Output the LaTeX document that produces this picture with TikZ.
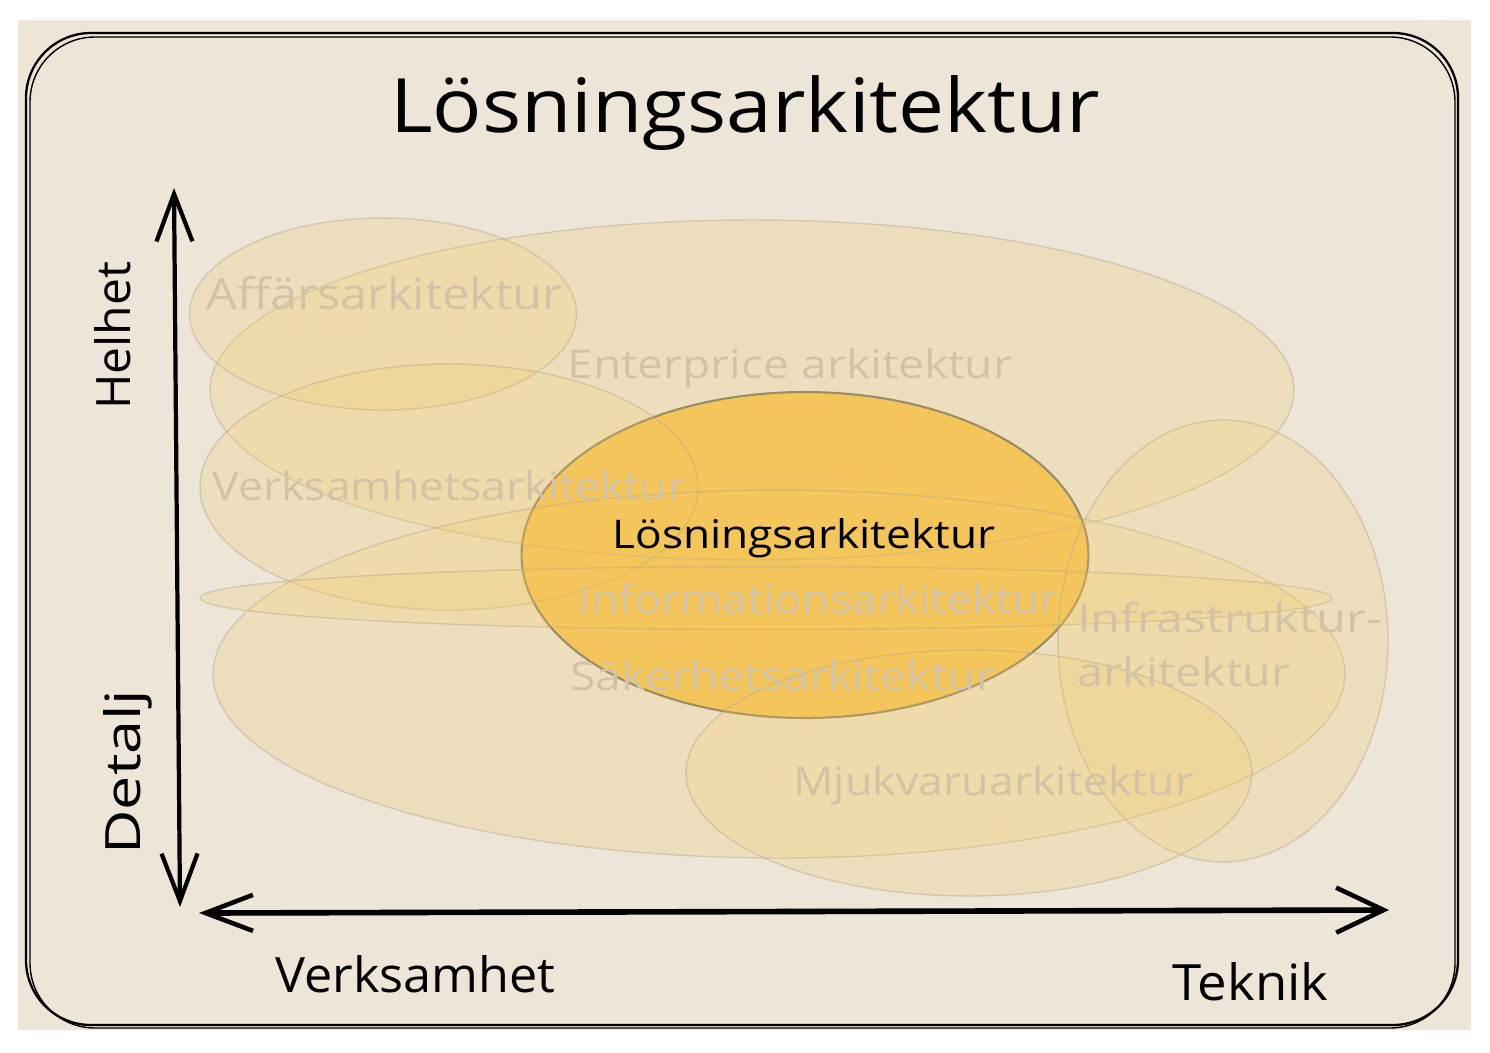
\documentclass[tikz,border=0pt]{standalone}
\usepackage{fontspec}
\setmainfont{Open Sans}
\usepackage{graphicx}
\usetikzlibrary{shapes.geometric,arrows.meta}
\definecolor{bgbeige}{HTML}{ECE5D8}
\definecolor{lightfill}{HTML}{F5C85A}
\definecolor{lightline}{HTML}{B8A88C}
\definecolor{fadetext}{HTML}{D3C3A6}
\definecolor{mainfill}{HTML}{F3C55A}
\definecolor{mainline}{HTML}{857D6C}
\newcommand{\fitlbl}[3]{\resizebox{#1cm}{#2cm}{#3}}
\begin{document}
\begin{tikzpicture}[x=0.02cm,y=-0.02cm,
  blob/.style={ellipse, inner sep=0pt, fill=lightfill, fill opacity=0.2, draw=lightline, draw opacity=0.45, line width=0.8pt},
  core/.style={ellipse, inner sep=0pt, fill=mainfill, draw=mainline, line width=1.2pt},
  faded/.style={inner sep=0pt, anchor=base west, text=fadetext},
  ink/.style={inner sep=0pt, anchor=base west, text=black},
  frame/.style={draw=black, line width=1.3pt, rounded corners=1.3cm},
  axisv/.style={line width=2.4pt, line cap=round, {Straight Barb[length=0.95cm,width=0.72cm,line width=2.4pt]}-{Straight Barb[length=0.95cm,width=0.72cm,line width=2.4pt]}},
  axish/.style={line width=3.2pt, line cap=round, {Straight Barb[length=0.95cm,width=0.72cm,line width=2.6pt]}-{Straight Barb[length=0.95cm,width=0.9cm,line width=2.6pt]}}]
\useasboundingbox (0,0) rectangle (1490,1052);
\fill[white] (0,0) rectangle (1490,1052);
\fill[bgbeige] (18,20) rectangle (1471,1030);
\draw[frame] (26,33) rectangle (1458,1025);
\draw[frame, line width=0.8pt] (30,37) rectangle (1455,1028);

% central ellipse
\node[core, minimum width=11.34cm, minimum height=6.52cm] (los) at (805,555) {};
% light ellipses
\node[blob, minimum width=21.68cm, minimum height=6.8cm] (ent) at (752,390) {};
\node[blob, minimum width=7.74cm, minimum height=3.84cm] (aff) at (383,314) {};
\node[blob, minimum width=9.96cm, minimum height=4.92cm] (verk) at (449,487) {};
\node[blob, minimum width=22.64cm, minimum height=7.36cm] (sak) at (779,674) {};
\node[blob, minimum width=22.64cm, minimum height=1.26cm] (info) at (766,598) {};
\node[blob, minimum width=6.6cm, minimum height=8.84cm] (infra) at (1223,641) {};
\node[blob, minimum width=11.32cm, minimum height=4.92cm] (mjuk) at (969,773) {};

% faded labels
\node[faded] (taff) at (206,309) {\fitlbl{7.12}{0.66}{Affärsarkitektur}};
\node[faded] (tent) at (567,378) {\fitlbl{8.9}{0.6}{Enterprice arkitektur}};
\node[faded] (tverk) at (212,500) {\fitlbl{9.46}{0.6}{Verksamhetsarkitektur}};
\node[faded] (tinfo) at (578,613) {\fitlbl{9.6}{0.6}{Informationsarkitektur}};
\node[faded] (tsak) at (570,690) {\fitlbl{8.5}{0.6}{Säkerhetsarkitektur}};
\node[faded] (tinfra1) at (1077,632) {\fitlbl{6.1}{0.6}{Infrastruktur-}};
\node[faded] (tinfra2) at (1077,686) {\fitlbl{4.26}{0.6}{arkitektur}};
\node[faded] (tmjuk) at (793,795) {\fitlbl{8.0}{0.6}{Mjukvaruarkitektur}};

% main label
\node[ink] (tlos) at (612,548) {\fitlbl{7.66}{0.6}{Lösningsarkitektur}};

% title
\node[ink] (title) at (390,132) {\fitlbl{14.2}{1.14}{Lösningsarkitektur}};

% axes
\coordinate (vtop) at (174,188);
\coordinate (vbot) at (180,907);
\coordinate (hleft) at (199,913);
\coordinate (hright) at (1389,910);
\draw[axisv] (vbot) -- (vtop);
\draw[axish] (hleft) -- (hright);

% axis labels
\node[ink, rotate=90] (helhet) at (130,410) {\fitlbl{2.96}{0.72}{Helhet}};
\node[ink, rotate=90] (detalj) at (140,855) {\fitlbl{3.3}{0.74}{Detalj}};
\node[ink] (verksamhet) at (275,992) {\fitlbl{5.6}{0.74}{Verksamhet}};
\node[ink] (teknik) at (1172,1000) {\fitlbl{3.12}{0.76}{Teknik}};
\end{tikzpicture}
\end{document}
